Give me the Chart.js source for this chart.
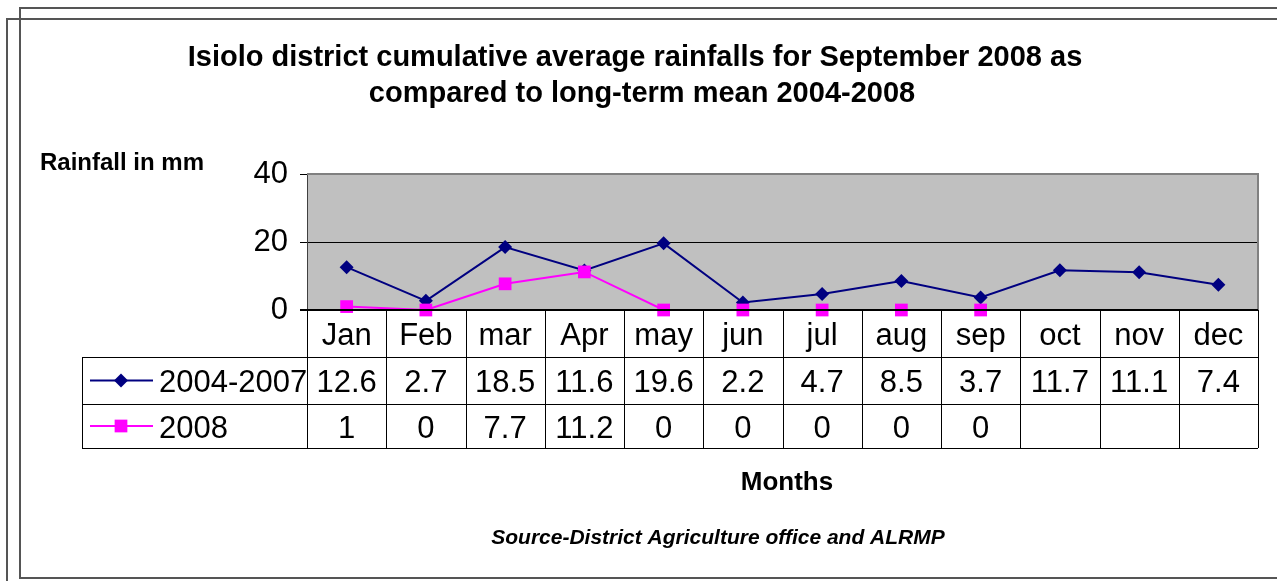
<!DOCTYPE html>
<html>
<head>
<meta charset="utf-8">
<script src="https://cdn.jsdelivr.net/npm/chart.js@4.4.0/dist/chart.umd.min.js"></script>
<style>
  html, body { margin: 0; padding: 0; background: #fff; overflow: hidden; }
  canvas { display: block; }
</style>
</head>
<body>
<canvas id="rainChart" width="1277" height="581"></canvas>
<script>
// chart data
const months = ['Jan', 'Feb', 'mar', 'Apr', 'may', 'jun', 'jul', 'aug', 'sep', 'oct', 'nov', 'dec'];
const longTerm = [12.6, 2.7, 18.5, 11.6, 19.6, 2.2, 4.7, 8.5, 3.7, 11.7, 11.1, 7.4];
const year2008 = [1, 0, 7.7, 11.2, 0, 0, 0, 0, 0, null, null, null];
const seriesNames = ['2004-2007', '2008'];
const yTicks = [0, 20, 40];

const titleLines = [
  'Isiolo district cumulative average rainfalls for September 2008 as',
  'compared to long-term mean 2004-2008'
];
const yTitle = 'Rainfall in mm';
const xTitle = 'Months';
const sourceNote = 'Source-District Agriculture office and ALRMP';

const FONT = 'Arial, "Liberation Sans", sans-serif';
const NAVY = '#000080';
const MAGENTA = '#FF00FF';

function drawMarker(ctx, style, x, y, r, color) {
  ctx.fillStyle = color;
  ctx.beginPath();
  if (style === 'rectRot') {
    ctx.moveTo(x - r, y); ctx.lineTo(x, y - r); ctx.lineTo(x + r, y); ctx.lineTo(x, y + r);
  } else {
    const s = Math.SQRT1_2 * r;
    ctx.rect(x - s, y - s, 2 * s, 2 * s);
  }
  ctx.closePath();
  ctx.fill();
}

// grey plot area + page frame
const plotBackground = {
  id: 'plotBackground',
  beforeDraw(chart) {
    const { ctx, chartArea: a } = chart;
    ctx.save();
    ctx.fillStyle = '#fff';
    ctx.fillRect(0, 0, chart.width, chart.height);
    ctx.strokeStyle = '#555';
    ctx.lineWidth = 2;
    ctx.strokeRect(20, 8, 1300, 570);
    ctx.strokeRect(7, 19, 1300, 600);
    ctx.fillStyle = '#C0C0C0';
    ctx.fillRect(a.left, a.top, a.right - a.left, a.bottom - a.top);
    ctx.restore();
  },
  beforeDatasetsDraw(chart) {
    const { ctx, chartArea: a } = chart;
    ctx.save();
    ctx.strokeStyle = '#808080';
    ctx.lineWidth = 2;
    ctx.beginPath();
    ctx.moveTo(a.left, a.top); ctx.lineTo(a.right, a.top); ctx.lineTo(a.right, a.bottom);
    ctx.stroke();
    ctx.restore();
  }
};

// data table under the plot + texts
const dataTable = {
  id: 'dataTable',
  afterDraw(chart) {
    const { ctx, chartArea: a } = chart;
    const x = chart.scales.x;
    const top = a.bottom;
    const rows = [top, top + 47, top + 94, top + 138];
    const legendLeft = 82;
    const n = months.length;
    const edges = [a.left];
    for (let i = 1; i < n; i++) edges.push((x.getPixelForValue(i - 1) + x.getPixelForValue(i)) / 2);
    edges.push(a.right);

    ctx.save();
    ctx.strokeStyle = '#000';
    ctx.lineWidth = 1;
    ctx.beginPath();
    for (let i = 1; i < rows.length; i++) {
      ctx.moveTo(legendLeft, Math.round(rows[i]) + 0.5);
      ctx.lineTo(a.right, Math.round(rows[i]) + 0.5);
    }
    edges.forEach(e => {
      ctx.moveTo(Math.round(e) + 0.5, top);
      ctx.lineTo(Math.round(e) + 0.5, rows[3]);
    });
    ctx.moveTo(legendLeft + 0.5, rows[1]);
    ctx.lineTo(legendLeft + 0.5, rows[3]);
    ctx.stroke();

    // axis line at zero
    ctx.lineWidth = 2;
    ctx.beginPath();
    ctx.moveTo(a.left - 7, top);
    ctx.lineTo(a.right, top);
    ctx.stroke();

    ctx.fillStyle = '#000';
    ctx.font = '31px ' + FONT;
    ctx.textAlign = 'center';
    ctx.textBaseline = 'middle';
    months.forEach((m, i) => {
      const cx = x.getPixelForValue(i);
      ctx.fillText(m, cx, (rows[0] + rows[1]) / 2 + 3);
      ctx.fillText(String(longTerm[i]), cx, (rows[1] + rows[2]) / 2 + 3);
      if (year2008[i] !== null) ctx.fillText(String(year2008[i]), cx, (rows[2] + rows[3]) / 2 + 3);
    });

    // legend keys
    const keys = [
      { name: seriesNames[0], color: NAVY, style: 'rectRot', r: 7, y: (rows[1] + rows[2]) / 2 },
      { name: seriesNames[1], color: MAGENTA, style: 'rect', r: 9, y: (rows[2] + rows[3]) / 2 }
    ];
    keys.forEach(k => {
      ctx.strokeStyle = k.color;
      ctx.lineWidth = 2;
      ctx.beginPath();
      ctx.moveTo(90, k.y); ctx.lineTo(153, k.y);
      ctx.stroke();
      drawMarker(ctx, k.style, 121, k.y, k.r, k.color);
      ctx.fillStyle = '#000';
      ctx.textAlign = 'left';
      ctx.fillText(k.name, 159, k.y + 3);
    });

    // titles
    ctx.textAlign = 'center';
    ctx.textBaseline = 'alphabetic';
    ctx.font = 'bold 29px ' + FONT;
    ctx.fillText(titleLines[0], 635, 66);
    ctx.fillText(titleLines[1], 642, 102);
    ctx.textAlign = 'left';
    ctx.font = 'bold 24px ' + FONT;
    ctx.fillText(yTitle, 40, 170);
    ctx.textAlign = 'center';
    ctx.font = 'bold 26px ' + FONT;
    ctx.fillText(xTitle, 787, 490);
    ctx.font = 'italic bold 21px ' + FONT;
    ctx.fillText(sourceNote, 718, 544);
    ctx.restore();
  }
};

new Chart(document.getElementById('rainChart'), {
  type: 'line',
  data: {
    labels: months,
    datasets: [
      {
        label: seriesNames[0],
        data: longTerm,
        borderColor: NAVY,
        backgroundColor: NAVY,
        borderWidth: 2,
        pointStyle: 'rectRot',
        pointRadius: 7,
        pointBorderWidth: 0,
        tension: 0,
        clip: false,
        order: 1
      },
      {
        label: seriesNames[1],
        data: year2008,
        borderColor: MAGENTA,
        backgroundColor: MAGENTA,
        borderWidth: 2,
        pointStyle: 'rect',
        pointRadius: 9,
        pointBorderWidth: 0,
        tension: 0,
        clip: false,
        spanGaps: false,
        order: 0
      }
    ]
  },
  options: {
    responsive: false,
    animation: false,
    devicePixelRatio: 1,
    layout: { padding: { top: 174, right: 19, bottom: 271, left: 0 } },
    plugins: {
      legend: { display: false },
      title: { display: false },
      tooltip: { enabled: false }
    },
    scales: {
      x: {
        type: 'category',
        display: false,
        offset: true
      },
      y: {
        min: 0,
        max: 40,
        afterFit(scale) { scale.width = 307; },
        afterBuildTicks(scale) { scale.ticks = yTicks.map(v => ({ value: v })); },
        border: { display: true, color: '#404040', width: 1 },
        grid: {
          color: c => (c.tick && c.tick.value === 40 ? '#808080' : '#000'),
          lineWidth: 1,
          tickLength: 7,
          tickColor: '#000'
        },
        ticks: {
          color: '#000',
          padding: 12,
          font: { size: 31, family: FONT }
        }
      }
    }
  },
  plugins: [plotBackground, dataTable]
});
</script>
</body>
</html>
